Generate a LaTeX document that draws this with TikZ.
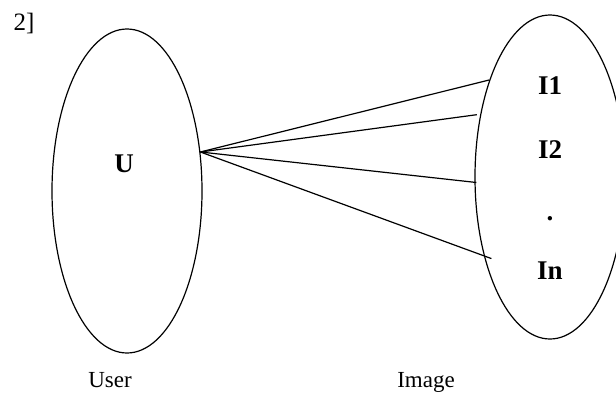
\documentclass[tikz,border=0pt]{standalone}
\usepackage{fontspec}
\setmainfont{Liberation Serif}
\usetikzlibrary{shapes.geometric}
\usetikzlibrary{positioning}
\tikzset{node distance=423pt, % Distance between the centres of the two sets
setshape/.style={ % Sets the properties for each set
ellipse,
draw,
line width=1.2pt,
minimum width=150pt,
minimum height=324pt,
inner sep=0pt},
elem/.style={font=\bfseries\fontsize{27}{27}\selectfont, anchor=base},
caption/.style={font=\fontsize{23}{23}\selectfont, anchor=base},
every edge/.style={ % Sets the properties for each mapping line
draw,
line width=1.2pt}}

\begin{document}
\begin{tikzpicture}[x=1pt, y=-1pt]
                \useasboundingbox (0,0) rectangle (616,394);
                \node[setshape] (user) at (127,191) {};
                \node[setshape, right of = user, yshift=14pt] (image) {};

                \node[caption, anchor=base west, font=\fontsize{25}{25}\selectfont] (num) at (10,30) {2]};
                \node[elem] (u) at (124,172) {U};
                \node[elem] (i1) at (550,94) {I1};
                \node[elem] (i2) at (550,158) {I2};
                \node[elem] (dots) at (550,220) {.};
                \node[elem] (in) at (550,279) {In};
                \node[caption] (userlbl) at (110,387) {User};
                \node[caption] (imagelbl) at (426,387) {Image};

                \draw (user.28) edge (image.122)
                (user.28) edge[shorten >=3.5pt] (image.138.7)
                (user.28) edge[shorten >=-2pt] (image.184.6)
                (user.28) edge[shorten >=-8pt] (image.230);
            \end{tikzpicture}
\end{document}
